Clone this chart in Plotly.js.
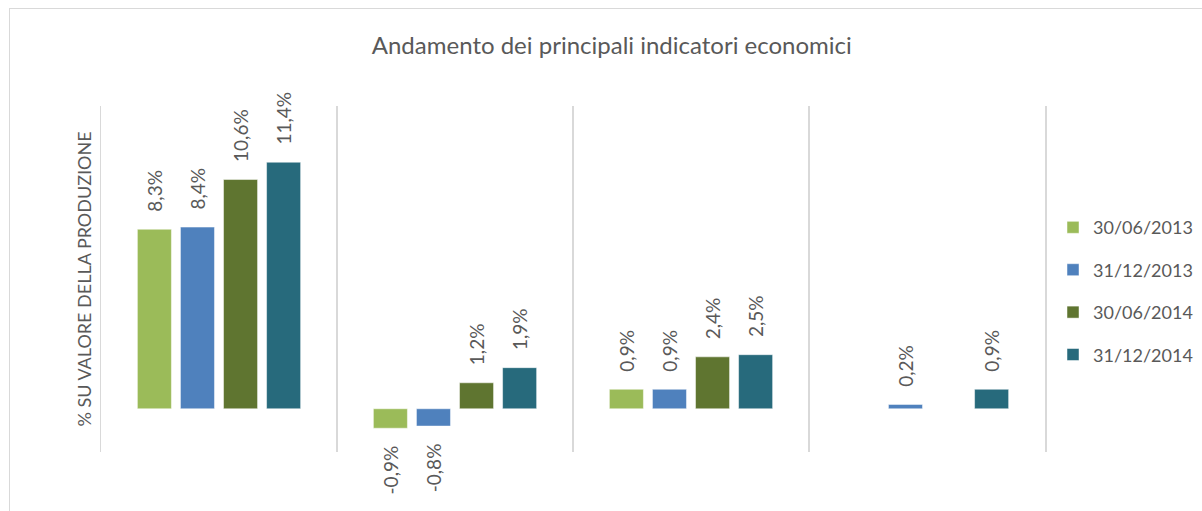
<!DOCTYPE html>
<html>
<head>
<meta charset="utf-8">
<script src="https://cdn.plot.ly/plotly-3.0.1.min.js"></script>
<style>
  html, body { margin: 0; padding: 0; background: #fff; overflow: hidden; }
  #wrap { position: relative; width: 1202px; height: 511px; }
  #chart { width: 1202px; height: 511px; }
  #frame { position: absolute; left: 9px; top: 8px; width: 1250px; height: 600px;
           border: 1.5px solid #d9d9d9; pointer-events: none; box-sizing: border-box; }
</style>
</head>
<body>
<div id="wrap">
  <div id="chart"></div>
  <div id="frame"></div>
</div>
<script>
// Categories (not labelled in the original chart)
const categories = ["Indicatore 1", "Indicatore 2", "Indicatore 3", "Indicatore 4"];
const seriesNames = ["30/06/2013", "31/12/2013", "30/06/2014", "31/12/2014"];
const s_30_06_2013 = [8.3, -0.9, 0.9, null];
const s_31_12_2013 = [8.4, -0.8, 0.9, 0.2];
const s_30_06_2014 = [10.6, 1.2, 2.4, null];
const s_31_12_2014 = [11.4, 1.9, 2.5, 0.9];
const colors = ["#9bbb59", "#4f81bd", "#5f7530", "#276a7c"];

const allSeries = [s_30_06_2013, s_31_12_2013, s_30_06_2014, s_31_12_2014];
const pad = "\u00a0\u00a0\u00a0";
function label(v) {
  if (v === null) return "";
  const t = v.toFixed(1).replace(".", ",") + "%";
  return v >= 0 ? pad + t : t + pad;
}

const FONT = "Lato, 'Noto Sans', sans-serif";

const traces = allSeries.map((vals, i) => ({
  type: "bar",
  name: seriesNames[i],
  x: categories,
  y: vals,
  legendgroup: "g" + i,
  marker: { color: colors[i], line: { color: "rgba(255,255,255,0.6)", width: 0.8 } },
  text: vals.map(label),
  textposition: "outside",
  textangle: -90,
  constraintext: "none",
  cliponaxis: false,
  textfont: { family: FONT, size: 19, color: "#595959" },
  outsidetextfont: { family: FONT, size: 19, color: "#595959" },
  hoverinfo: "skip"
}));

const layout = {
  width: 1202,
  height: 511,
  paper_bgcolor: "#ffffff",
  plot_bgcolor: "#ffffff",
  margin: { l: 101, r: 157, t: 106, b: 59, autoexpand: false },
  separators: ",.",
  barmode: "group",
  bargap: 0.27,
  bargroupgap: 0.21,
  title: {
    text: "Andamento dei principali indicatori economici",
    font: { family: FONT, size: 24, color: "#595959" },
    xref: "container", x: 0.509, xanchor: "center",
    yref: "container", y: 1 - 46 / 511, yanchor: "middle"
  },
  xaxis: {
    type: "category",
    tickson: "boundaries",
    showgrid: true,
    gridcolor: "#d9d9d9",
    gridwidth: 1.5,
    showticklabels: false,
    ticks: "",
    showline: false,
    zeroline: false,
    automargin: false,
    fixedrange: true
  },
  yaxis: {
    range: [-2, 14],
    showgrid: false,
    zeroline: false,
    showticklabels: false,
    ticks: "",
    showline: true,
    mirror: true,
    linecolor: "#d9d9d9",
    linewidth: 1.5,
    automargin: false,
    title: {
      text: "% SU VALORE DELLA PRODUZIONE",
      font: { family: FONT, size: 18, color: "#595959" },
      standoff: 3
    }
  },
  showlegend: true,
  legend: {
    x: 1.0085, xanchor: "left",
    y: 0.465, yanchor: "middle",
    traceorder: "grouped",
    tracegroupgap: 16,
    font: { family: FONT, size: 18, color: "#595959" },
    itemwidth: 30,
    bgcolor: "rgba(0,0,0,0)"
  }
};

Plotly.newPlot("chart", traces, layout, { displayModeBar: false, staticPlot: true });
</script>
</body>
</html>
